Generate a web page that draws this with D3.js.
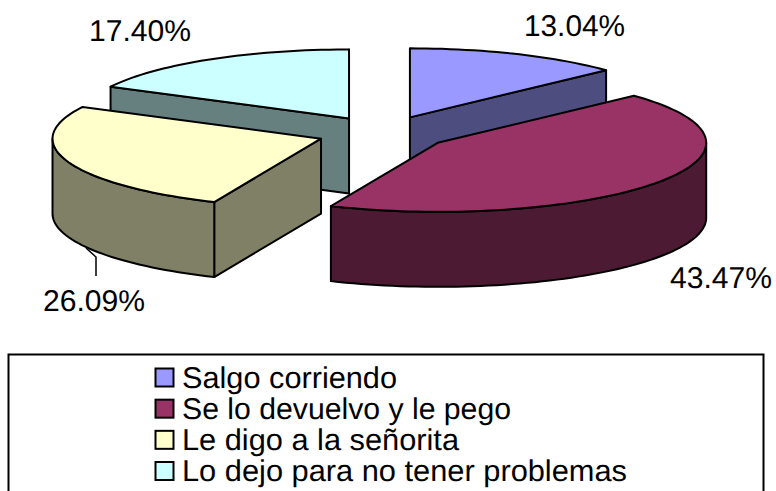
<!DOCTYPE html>
<html>
<head>
<meta charset="utf-8">
<script src="https://cdn.jsdelivr.net/npm/d3@7/dist/d3.min.js"></script>
<style>
html,body{margin:0;padding:0;background:#fff;overflow:hidden}
svg{display:block}
text{font-family:"Liberation Sans",Arial,sans-serif;fill:#000;text-rendering:geometricPrecision}
</style>
</head>
<body>
<svg id="chart" width="776" height="491"></svg>
<script>
const categories = ["Salgo corriendo","Se lo devuelvo y le pego","Le digo a la señorita","Lo dejo para no tener problemas"];
const values = [13.04,43.47,26.09,17.40];
const valueLabels = ["13.04%","43.47%","26.09%","17.40%"];
const topColors = ["#9999FF","#993366","#FFFFCC","#CCFFFF"];
const sideColors = ["#4D4D80","#4D1A33","#808066","#668080"];

const W=776,H=491;
const cx=383.5, cy=133, rx=268.5, ry=69, depth=75, explode=0.247;
const svg=d3.select("#chart");
const line=d3.line();
const arcs=d3.pie().sort(null).value(d=>d)(values);

const px=(a,r)=>r*rx*Math.sin(a), py=(a,r)=>-r*ry*Math.cos(a);
const slices=arcs.map((d,i)=>{
  const mid=(d.startAngle+d.endAngle)/2;
  return {i,a0:d.startAngle,a1:d.endAngle,ox:cx+px(mid,explode),oy:cy+py(mid,explode)};
}).sort((a,b)=>d3.ascending(a.oy,b.oy));

function poly(g,pts,fill){
  g.append("path").attr("d",line(pts)+"Z").attr("fill",fill)
   .attr("stroke","#000").attr("stroke-width",2).attr("stroke-linejoin","round");
}
function wall(s,a){
  const p=[s.ox+px(a,1),s.oy+py(a,1)];
  return [[s.ox,s.oy],p,[p[0],p[1]+depth],[s.ox,s.oy+depth]];
}
slices.forEach(s=>{
  const g=svg.append("g");
  const side=sideColors[s.i];
  if(Math.sin(s.a1)>-1e-6) poly(g,wall(s,s.a1),side);
  if(Math.sin(s.a0)<-1e-6) poly(g,wall(s,s.a0),side);
  // outer wall: front-facing part of the rim
  const f0=Math.max(s.a0,Math.PI/2), f1=Math.min(s.a1,Math.PI*1.5);
  if(f1>f0){
    const as=d3.range(f0,f1,0.03).concat([f1]);
    const up=as.map(a=>[s.ox+px(a,1),s.oy+py(a,1)]);
    const dn=up.map(p=>[p[0],p[1]+depth]).reverse();
    poly(g,up.concat(dn),side);
  }
  // top face
  const as=d3.range(s.a0,s.a1,0.03).concat([s.a1]);
  poly(g,[[s.ox,s.oy]].concat(as.map(a=>[s.ox+px(a,1),s.oy+py(a,1)])),topColors[s.i]);
});

// leader line for the 26.09% label
svg.append("path").attr("d",line([[96,276],[96,257],[86,248]])).attr("fill","none").attr("stroke","#000").attr("stroke-width",1.5);

// value labels
const labelAt=[[524,36],[670,288],[43,311],[89,41]];
const labelW=[101,102,102,102];
valueLabels.forEach((t,i)=>{
  svg.append("text").attr("x",labelAt[i][0]).attr("y",labelAt[i][1])
    .attr("font-size",30).attr("textLength",labelW[i]).attr("lengthAdjust","spacingAndGlyphs").text(t);
});

// legend: box runs past the bottom of the picture
svg.append("path").attr("d",line([[8.5,H+2],[8.5,354.5],[763.5,354.5],[763.5,H+2]]))
  .attr("fill","none").attr("stroke","#000").attr("stroke-width",2);
const rowY=d3.scalePoint().domain(d3.range(categories.length)).range([377.5,471]);
const legendW=[215,329,277,445];
categories.forEach((c,i)=>{
  svg.append("rect").attr("x",155.5).attr("y",rowY(i)-9).attr("width",18).attr("height",18)
    .attr("fill",topColors[i]).attr("stroke","#000").attr("stroke-width",2);
  svg.append("text").attr("x",182).attr("y",rowY(i)+10).attr("font-size",30)
    .attr("textLength",legendW[i]).attr("lengthAdjust","spacingAndGlyphs").text(c);
});
</script>
</body>
</html>
